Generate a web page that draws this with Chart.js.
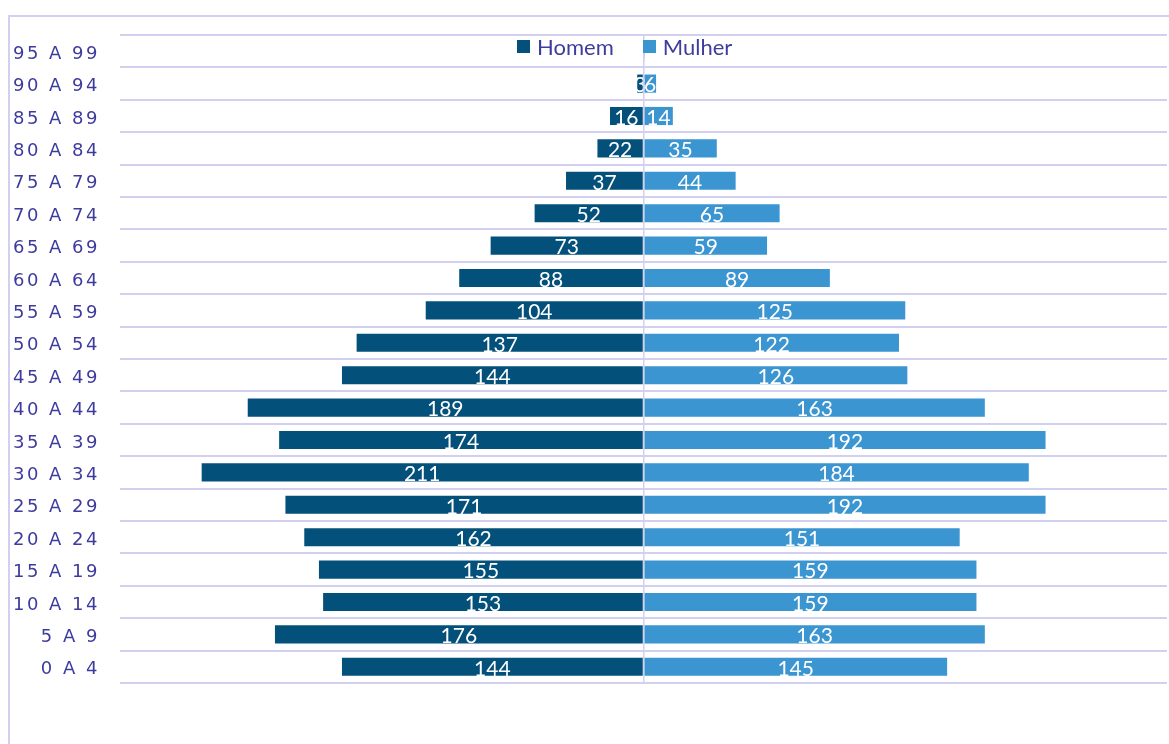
<!DOCTYPE html>
<html lang="pt">
<head>
    <meta charset="UTF-8">
    <title>Pirâmide etária</title>
    <script src="https://cdn.jsdelivr.net/npm/chart.js"></script>
    <style>
        body {
            margin: 0;
            background: #fff;
            font-family: Lato, sans-serif;
        }
        .frame {
            position: absolute;
            left: 8px;
            top: 15px;
            width: 1300px;
            height: 900px;
            border: 2px solid #d3cfee;
        }
        #pyramid {
            position: absolute;
            left: 0;
            top: 0;
        }
        .legend {
            position: absolute;
            top: 33px;
            left: 517px;
            display: flex;
            font-family: Lato, sans-serif;
            font-size: 22px;
            color: #3f3d9b;
        }
        .legend span {
            display: flex;
            align-items: center;
            margin-right: 29px;
        }
        .legend i {
            display: inline-block;
            width: 13px;
            height: 13px;
            margin-right: 7px;
        }
    </style>
</head>
<body>
    <div class="frame"></div>
    <canvas id="pyramid" width="1169" height="744"></canvas>
    <div class="legend" id="legend"></div>

    <script>
        // faixas etárias, de cima para baixo
        const ageGroups = ['95 A 99', '90 A 94', '85 A 89', '80 A 84', '75 A 79', '70 A 74',
            '65 A 69', '60 A 64', '55 A 59', '50 A 54', '45 A 49', '40 A 44', '35 A 39',
            '30 A 34', '25 A 29', '20 A 24', '15 A 19', '10 A 14', '5 A 9', '0 A 4'];
        const homem = [0, 3, 16, 22, 37, 52, 73, 88, 104, 137, 144, 189, 174, 211, 171, 162, 155, 153, 176, 144];
        const mulher = [1, 6, 14, 35, 44, 65, 59, 89, 125, 122, 126, 163, 192, 184, 192, 151, 159, 159, 163, 145];

        const gridColor = '#d3cfee';
        const textColor = '#3d3b9e';

        // rótulos brancos no meio das barras + espaçamento das letras do eixo
        const valueLabels = {
            id: 'valueLabels',
            afterDatasetsDraw(chart) {
                const ctx = chart.ctx;
                ctx.save();
                ctx.font = '21px Lato';
                ctx.fillStyle = '#ffffff';
                ctx.textAlign = 'center';
                ctx.textBaseline = 'middle';
                chart.data.datasets.forEach((ds, i) => {
                    chart.getDatasetMeta(i).data.forEach((bar, j) => {
                        const v = Math.abs(ds.data[j]);
                        if (!v) return;
                        ctx.fillText(v, (bar.x + bar.base) / 2, bar.y + 2);
                    });
                });
                ctx.restore();
                ctx.letterSpacing = '2.5px';
            },
            afterDraw(chart) {
                chart.ctx.letterSpacing = '0px';
            }
        };

        const ctx = document.getElementById('pyramid').getContext('2d');
        const chart = new Chart(ctx, {
            type: 'bar',
            data: {
                labels: ageGroups,
                datasets: [{
                    label: 'Homem',
                    data: homem.map(v => -v),
                    backgroundColor: '#03507a'
                }, {
                    label: 'Mulher',
                    data: mulher,
                    backgroundColor: '#3a95d1'
                }]
            },
            options: {
                indexAxis: 'y',
                responsive: false,
                animation: false,
                barPercentage: 0.56,
                categoryPercentage: 1.0,
                layout: {
                    padding: { top: 35, bottom: 61, left: 0, right: 2 }
                },
                plugins: {
                    legend: { display: false },
                    tooltip: { enabled: false }
                },
                scales: {
                    x: {
                        stacked: true,
                        min: -250,
                        max: 250,
                        ticks: { display: false, stepSize: 250 },
                        border: { display: false },
                        grid: {
                            z: 1,
                            drawTicks: false,
                            lineWidth: 1.5,
                            color: c => c.tick && c.tick.value === 0 ? gridColor : 'rgba(0,0,0,0)'
                        }
                    },
                    y: {
                        stacked: true,
                        afterFit: s => { s.width = 120; },
                        border: { display: false },
                        grid: {
                            color: gridColor,
                            lineWidth: 2,
                            drawTicks: false
                        },
                        ticks: {
                            z: 1,
                            padding: 20,
                            labelOffset: 3,
                            color: textColor,
                            font: { family: 'DejaVu Sans', size: 18 }
                        }
                    }
                }
            },
            plugins: [valueLabels]
        });

        // legenda em HTML, por cima da área do gráfico como no original
        const legend = document.getElementById('legend');
        chart.data.datasets.forEach(ds => {
            const item = document.createElement('span');
            item.innerHTML = '<i style="background:' + ds.backgroundColor + '"></i>' + ds.label;
            legend.appendChild(item);
        });
    </script>
</body>
</html>
